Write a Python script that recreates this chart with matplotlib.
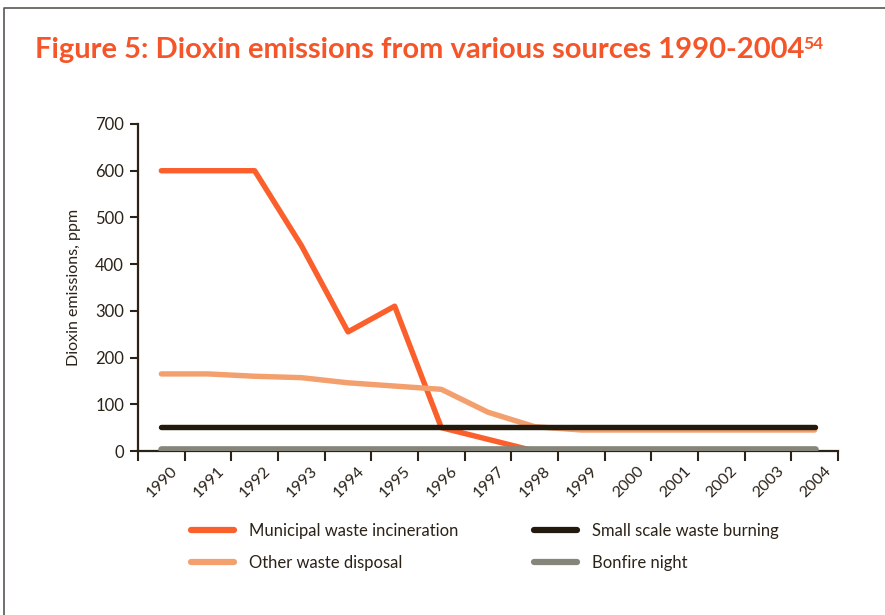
import matplotlib
matplotlib.use("Agg")
import matplotlib.pyplot as plt
import matplotlib.transforms as mtransforms
from matplotlib.lines import Line2D

years = [str(y) for y in range(1990, 2005)]
municipal = [600, 600, 600, 440, 255, 310, 50, 25, 0, 0, 0, 0, 0, 0, 0]
other_waste = [165, 165, 160, 157, 146, 139, 132, 83, 52, 45, 45, 45, 45, 45, 45]
small_scale = [52] * 15
bonfire = [5] * 15

series_names = ["Municipal waste incineration", "Other waste disposal",
                "Small scale waste burning", "Bonfire night"]
series_colors = ["#FB5F2C", "#F4A06E", "#231A0E", "#86857A"]
series_widths = [3.9, 3.9, 3.9, 4.8]

plt.rcParams["font.family"] = ["Lato", "DejaVu Sans"]
dark = "#2B2218"
title_col = "#F4562A"

fig = plt.figure(figsize=(8.85, 6.15), dpi=100)
ax = fig.add_axes([138 / 885, 1 - 451 / 615, 700 / 885, (451 - 124) / 615])

x = list(range(len(years)))
for vals, col, lw in zip([municipal, other_waste, small_scale, bonfire],
                         series_colors, series_widths):
    ax.plot(x, vals, color=col, lw=lw, solid_capstyle="round",
            solid_joinstyle="round", zorder=3)

ax.set_xlim(-0.5, len(years) - 0.5)
ax.set_ylim(0, 700)
ax.set_yticks(range(0, 701, 100))
ax.tick_params(axis="y", direction="out", length=6, width=1.5, color=dark,
               labelsize=12, labelcolor=dark, pad=4)

# category labels at centres, tick marks on the boundaries
ax.set_xticks(x)
ax.set_xticklabels(years, rotation=45, ha="right", rotation_mode="anchor")
ax.tick_params(axis="x", which="major", length=0, labelsize=11.5,
               labelcolor=dark, pad=9)
shift = mtransforms.ScaledTranslation(9 / 100, 0, fig.dpi_scale_trans)
for lbl in ax.get_xticklabels():
    lbl.set_transform(lbl.get_transform() + shift)
ax.set_xticks([i - 0.5 for i in range(len(years) + 1)], minor=True)
ax.tick_params(axis="x", which="minor", direction="out", length=7, width=1.5,
               color=dark)

for side in ["top", "right"]:
    ax.spines[side].set_visible(False)
for side in ["left", "bottom"]:
    ax.spines[side].set_color(dark)
    ax.spines[side].set_linewidth(1.6)

ax.set_ylabel("Dioxin emissions, ppm", fontsize=11.5, color=dark, labelpad=10)

handles = [Line2D([], [], color=c, lw=4.5, solid_capstyle="round")
           for c in series_colors]
fig.legend(handles, series_names, ncol=2,
           loc="upper left", bbox_to_anchor=(176 / 885, 1 - 508 / 615),
           frameon=False, fontsize=12, labelcolor=dark, handlelength=2.6,
           handletextpad=0.9, columnspacing=4.5, labelspacing=0.95)

title = fig.text(35 / 885, 1 - 58 / 615,
                 "Figure 5: Dioxin emissions from various sources 1990-2004",
                 fontsize=21, fontweight="bold", color=title_col, ha="left",
                 va="baseline")
fig.canvas.draw()
bb = title.get_window_extent()
fig.text(bb.x1 / 885 - 1 / 885, 1 - 49 / 615, "54", fontsize=12.5,
         fontweight="bold", color=title_col, ha="left", va="baseline")

# page frame
fig.add_artist(Line2D([4 / 885, 4 / 885, 1], [0, 1 - 8 / 615, 1 - 8 / 615],
                      transform=fig.transFigure, color="#5A5650", lw=1.2))

fig.savefig("out.png", dpi=100)
